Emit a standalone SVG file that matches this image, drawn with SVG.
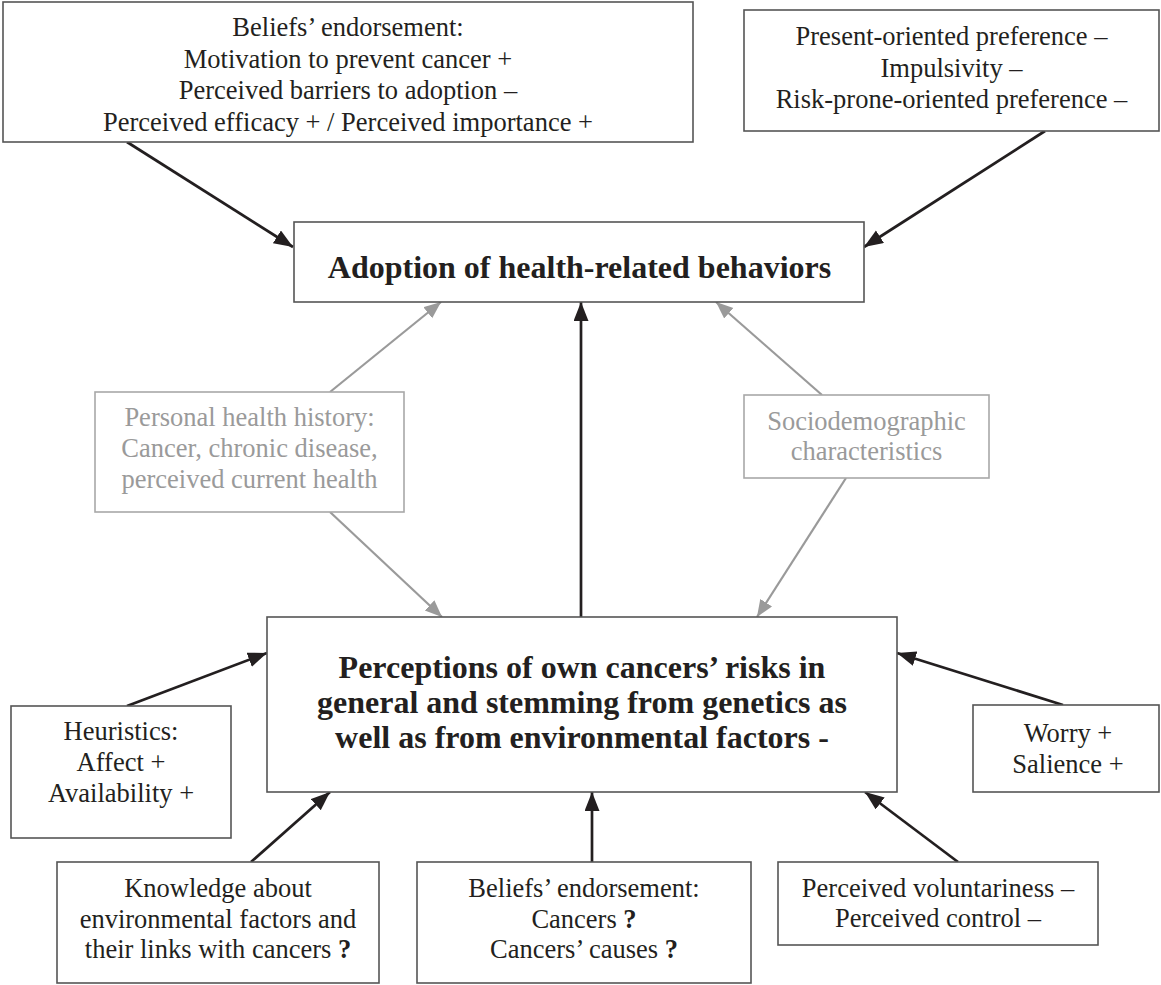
<svg xmlns="http://www.w3.org/2000/svg" width="1161" height="985" viewBox="0 0 1161 985">
<defs>
<style>
.box{fill:#fff;stroke:#555;stroke-width:1.6}
.gbox{fill:#fff;stroke:#a8a8a8;stroke-width:1.6}
.t{font-family:"Liberation Serif","Times New Roman",serif;font-size:26.5px;fill:#231f20;text-anchor:middle}
.g{fill:#9a9a9a}
.b{font-weight:bold;font-size:32px}
.q{font-weight:bold}
.k{stroke:#231f20;stroke-width:2.7;fill:none}
.gl{stroke:#9a9a9a;stroke-width:2.2;fill:none}
</style>
<marker id="ak" markerUnits="userSpaceOnUse" markerWidth="20" markerHeight="16" refX="19" refY="7.5" orient="auto">
<path d="M0,0 L19,7.5 L0,15 z" fill="#231f20"/>
</marker>
<marker id="ag" markerUnits="userSpaceOnUse" markerWidth="18" markerHeight="15" refX="17" refY="7" orient="auto">
<path d="M0,0 L17,7 L0,14 z" fill="#9a9a9a"/>
</marker>
</defs>
<rect width="1161" height="985" fill="#fff"/>

<g id="connectors">
<line class="k" x1="127" y1="142" x2="293" y2="247" marker-end="url(#ak)"/>
<line class="k" x1="1045" y1="131" x2="864" y2="247" marker-end="url(#ak)"/>
<line class="k" x1="581" y1="617" x2="581" y2="302" marker-end="url(#ak)"/>
<line class="gl" x1="330" y1="392" x2="441" y2="302" marker-end="url(#ag)"/>
<line class="gl" x1="822" y1="395" x2="716" y2="302" marker-end="url(#ag)"/>
<line class="gl" x1="330" y1="512" x2="442" y2="617" marker-end="url(#ag)"/>
<line class="gl" x1="846" y1="478" x2="757" y2="617" marker-end="url(#ag)"/>
<line class="k" x1="127" y1="706" x2="267" y2="653" marker-end="url(#ak)"/>
<line class="k" x1="1063" y1="705" x2="897" y2="653" marker-end="url(#ak)"/>
<line class="k" x1="251" y1="862" x2="330" y2="792" marker-end="url(#ak)"/>
<line class="k" x1="592" y1="862" x2="592" y2="792" marker-end="url(#ak)"/>
<line class="k" x1="958" y1="862" x2="865" y2="792" marker-end="url(#ak)"/>
</g>

<g id="beliefs-top">
<rect class="box" x="3" y="2" width="690" height="140"/>
<text class="t" x="348" y="36">Beliefs’ endorsement:</text>
<text class="t" x="348" y="67.5">Motivation to prevent cancer +</text>
<text class="t" x="348" y="99">Perceived barriers to adoption –</text>
<text class="t" x="348" y="130.5">Perceived efficacy + / Perceived importance +</text>
</g>

<g id="preferences">
<rect class="box" x="744" y="10" width="415" height="121"/>
<text class="t" x="951.5" y="45">Present-oriented preference –</text>
<text class="t" x="951.5" y="76.5">Impulsivity –</text>
<text class="t" x="951.5" y="108">Risk-prone-oriented preference –</text>
</g>

<g id="adoption">
<rect class="box" x="294" y="222" width="570" height="80"/>
<text class="t b" x="579.5" y="278">Adoption of health-related behaviors</text>
</g>

<g id="personal-history">
<rect class="gbox" x="95" y="392" width="309" height="120"/>
<text class="t g" x="249.5" y="426">Personal health history:</text>
<text class="t g" x="249.5" y="457">Cancer, chronic disease,</text>
<text class="t g" x="249.5" y="487.5">perceived current health</text>
</g>

<g id="sociodemographic">
<rect class="gbox" x="744" y="395" width="245" height="83"/>
<text class="t g" x="866.5" y="430">Sociodemographic</text>
<text class="t g" x="866.5" y="460">characteristics</text>
</g>

<g id="perceptions">
<rect class="box" x="267" y="617" width="630" height="175"/>
<text class="t b" x="582" y="678">Perceptions of own cancers’ risks in</text>
<text class="t b" x="582" y="713">general and stemming from genetics as</text>
<text class="t b" x="582" y="748">well as from environmental factors -</text>
</g>

<g id="heuristics">
<rect class="box" x="11" y="706" width="220" height="132"/>
<text class="t" x="121" y="740">Heuristics:</text>
<text class="t" x="121" y="771">Affect +</text>
<text class="t" x="121" y="802">Availability +</text>
</g>

<g id="worry">
<rect class="box" x="973" y="705" width="186" height="87"/>
<text class="t" x="1068" y="742">Worry +</text>
<text class="t" x="1068" y="773">Salience +</text>
</g>

<g id="knowledge">
<rect class="box" x="57" y="862" width="322" height="121"/>
<text class="t" x="218" y="897">Knowledge about</text>
<text class="t" x="218" y="927.5">environmental factors and</text>
<text class="t" x="218" y="958">their links with cancers <tspan class="q">?</tspan></text>
</g>

<g id="beliefs-bottom">
<rect class="box" x="417" y="862" width="334" height="121"/>
<text class="t" x="584" y="897">Beliefs’ endorsement:</text>
<text class="t" x="584" y="927.5">Cancers <tspan class="q">?</tspan></text>
<text class="t" x="584" y="958">Cancers’ causes <tspan class="q">?</tspan></text>
</g>

<g id="voluntariness">
<rect class="box" x="778" y="862" width="320" height="83"/>
<text class="t" x="938" y="897">Perceived voluntariness –</text>
<text class="t" x="938" y="927">Perceived control –</text>
</g>
</svg>
